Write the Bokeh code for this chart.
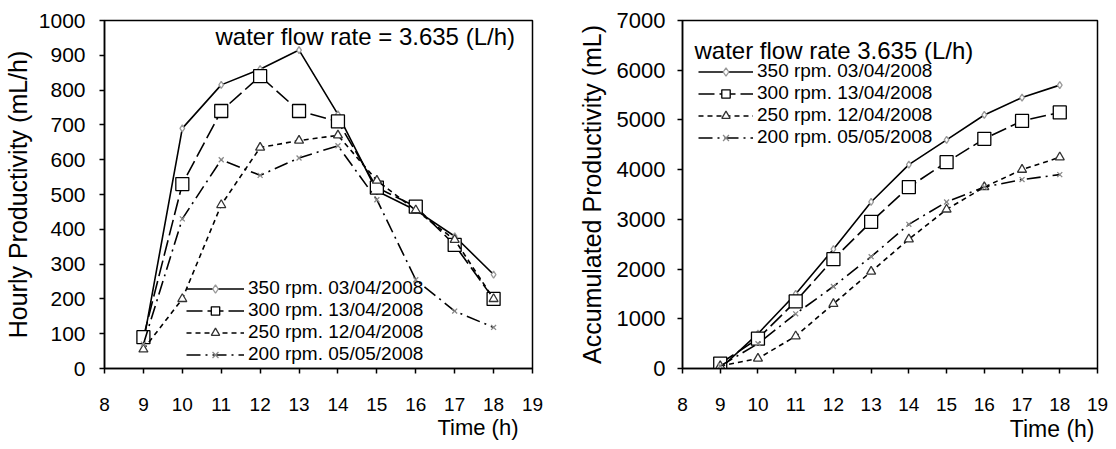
from bokeh.plotting import figure
from bokeh.layouts import row
from bokeh.models import Label, Legend, FixedTicker, Title
from bokeh.embed import file_html
from bokeh.resources import INLINE

hours = [9, 10, 11, 12, 13, 14, 15, 16, 17, 18]
labels = ["350 rpm. 03/04/2008", "300 rpm. 13/04/2008", "250 rpm. 12/04/2008", "200 rpm. 05/05/2008"]

hourly_350 = [75, 690, 815, 860, 915, 730, 510, 455, 380, 270]
hourly_300 = [90, 530, 740, 840, 740, 710, 520, 465, 355, 200]
hourly_250 = [55, 200, 470, 635, 655, 670, 540, 455, 370, 200]
hourly_200 = [70, 430, 600, 555, 605, 640, 485, 255, 165, 118]

acc_350 = [0, 700, 1500, 2400, 3350, 4100, 4600, 5100, 5450, 5700]
acc_300 = [100, 600, 1350, 2200, 2950, 3650, 4150, 4620, 4980, 5150]
acc_250 = [50, 200, 650, 1300, 1950, 2600, 3200, 3650, 4000, 4250]
acc_200 = [50, 500, 1100, 1650, 2250, 2900, 3350, 3650, 3800, 3900]

FONT = "Liberation Sans"
styles = [
    dict(dash="solid", marker="diamond", msize=7, mcolor="#999999"),
    dict(dash="16 5", marker="square", msize=13, mcolor="black"),
    dict(dash="5 4", marker="triangle", msize=9, mcolor="#333333"),
    dict(dash="14 5 2 5", marker="x", msize=7, mcolor="#888888"),
]


def make_fig(series, ylabel, yend, ytick, width, height, borders, cfg):
    p = figure(width=width, height=height, x_range=(8, 19), y_range=(0, yend),
               output_backend="svg", toolbar_location=None,
               min_border_left=borders[0], min_border_right=borders[1],
               min_border_top=borders[2], min_border_bottom=borders[3])
    p.background_fill_color = "white"
    p.border_fill_color = "white"
    p.outline_line_color = "black"
    p.outline_line_width = 1.5
    p.xgrid.visible = False
    p.ygrid.visible = False
    p.xaxis.ticker = FixedTicker(ticks=list(range(8, 20)))
    p.yaxis.ticker = FixedTicker(ticks=list(range(0, yend + 1, ytick)))
    for ax in (p.xaxis[0], p.yaxis[0]):
        ax.axis_line_width = 1.5
        ax.axis_line_color = "black"
        ax.major_tick_line_width = 1.5
        ax.major_tick_line_color = "black"
        ax.major_tick_out = 5
        ax.major_tick_in = 0
        ax.minor_tick_out = 0
        ax.minor_tick_in = 0
        ax.major_label_text_font = FONT
        ax.major_label_text_color = "black"
    p.yaxis.major_label_text_font_size = cfg["ytick_font"]
    p.xaxis.major_label_text_font_size = cfg["xtick_font"]
    p.xaxis.major_label_standoff = cfg["xtick_standoff"]
    p.yaxis.major_label_standoff = cfg["ytick_standoff"]
    p.yaxis.axis_label = ylabel
    p.yaxis.axis_label_text_font = FONT
    p.yaxis.axis_label_text_font_size = cfg["ylabel_font"]
    p.yaxis.axis_label_text_font_style = "normal"
    p.yaxis.axis_label_text_color = "black"
    p.yaxis.axis_label_standoff = cfg["ylabel_standoff"]

    items = []
    for lab, ys, st in zip(labels, series, styles):
        r1 = p.line(hours, ys, line_color="black", line_width=1.6, line_dash=st["dash"])
        r2 = p.scatter(hours, ys, marker=st["marker"], size=st["msize"],
                       line_color=st["mcolor"], fill_color="white", line_width=1.3)
        items.append((lab, [r1, r2]))
    leg = Legend(items=items, location=cfg["leg_loc"], border_line_color=None,
                 background_fill_alpha=0, label_text_font=FONT, label_text_color="black",
                 label_text_font_size="19px", glyph_width=cfg["glyph_w"], glyph_height=cfg["row_h"],
                 label_height=cfg["row_h"], spacing=0, padding=0, margin=0,
                 label_standoff=4)
    p.add_layout(leg, "center")
    p.add_layout(Label(x=cfg["title_pos"][0], y=cfg["title_pos"][1], x_units="screen", y_units="screen",
                       text=cfg["title"], text_font=FONT, text_font_size="24px", text_color="black",
                       text_baseline="alphabetic"))
    p.add_layout(Title(text="Time (h)", align="right", offset=cfg["time_offset"],
                       vertical_align="top", standoff=cfg["time_standoff"],
                       text_font=FONT, text_font_size=cfg["time_font"], text_font_style="normal",
                       text_color="black"), "below")
    return p


cfg1 = dict(ytick_font="21px", xtick_font="19px", xtick_standoff=24, ytick_standoff=14,
            ylabel_font="25px", ylabel_standoff=4, leg_loc=(82, 3), glyph_w=58, row_h=21,
            title="water flow rate = 3.635 (L/h)", title_pos=(111, 332), time_offset=14,
            time_font="22px", time_standoff=2)
cfg2 = dict(ytick_font="22px", xtick_font="19px", xtick_standoff=24, ytick_standoff=12,
            ylabel_font="25px", ylabel_standoff=8, leg_loc=(16, 220), glyph_w=55, row_h=21,
            title="water flow rate 3.635 (L/h)", title_pos=(12, 318), time_offset=3,
            time_font="23px", time_standoff=4)

p1 = make_fig([hourly_350, hourly_300, hourly_250, hourly_200],
              "Hourly Productivity (mL/h)", 1000, 100, 556, 449, (103, 24, 20, 77), cfg1)
p2 = make_fig([acc_350, acc_300, acc_250, acc_200],
              "Accumulated Productivity (mL)", 7000, 1000, 559, 449, (126, 18, 20, 81), cfg2)

layout = row(p1, p2)
open("out.html", "w").write(file_html(layout, INLINE))
